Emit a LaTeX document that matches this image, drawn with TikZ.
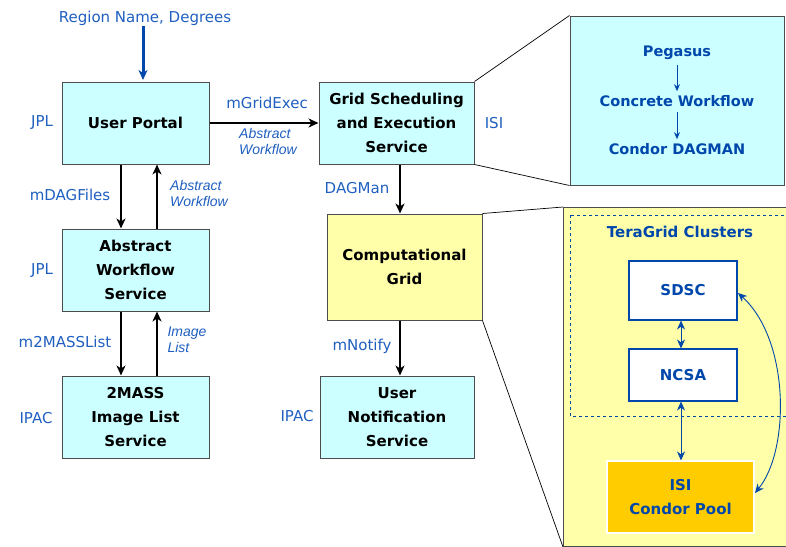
\documentclass[tikz,border=0pt]{standalone}
\usepackage{fontspec}
\setmainfont{DejaVu Sans}
\newfontfamily\flowfont{Liberation Sans}
\usetikzlibrary{arrows.meta}
\definecolor{boxcyan}{HTML}{CCFFFF}
\definecolor{boxyellow}{HTML}{FFFFAA}
\definecolor{poolgold}{HTML}{FFCC00}
\definecolor{labelblue}{HTML}{1F5FBF}
\definecolor{linkblue}{HTML}{0047AB}

\begin{document}
\begin{tikzpicture}[x=1pt, y=-1pt]
        \tikzstyle{every node}=[inner sep=1pt, align=center]
        \tikzstyle{service}=[draw=black!70, line width=1pt, fill=boxcyan, font=\fontsize{15}{24}\selectfont\bfseries]
        \tikzstyle{site}=[text=labelblue, font=\fontsize{15}{17}\selectfont]
        \tikzstyle{flow}=[text=labelblue, font=\flowfont\fontsize{14}{16}\selectfont\itshape, align=left]
        \tikzstyle{stage}=[text=linkblue, font=\fontsize{14.5}{17}\selectfont\bfseries]
        \tikzstyle{cluster}=[draw=linkblue, line width=1.1pt, fill=white, text=linkblue, font=\fontsize{15}{24}\selectfont\bfseries]
        \tikzstyle{call}=[line width=2.5pt, -{Stealth[length=10pt, width=9pt, inset=3pt]}]
        \tikzstyle{link}=[draw=linkblue, line width=0.9pt, {Stealth[length=9pt, width=8pt]}-{Stealth[length=9pt, width=8pt]}]
        \clip (0,0) rectangle (786,546);
        \useasboundingbox (0,0) rectangle (786,546);
        % zoomed views
        \node [draw=black!70, line width=1pt, fill=boxcyan, minimum width=214pt, minimum height=169pt] (pegbox) at (677,100.5) {};
        \node [draw=black!70, line width=1pt, fill=boxyellow, minimum width=230pt, minimum height=339pt, anchor=north west] (gridbox) at (563,207) {};
        \draw [draw=linkblue, dashed, line width=0.8pt] (570,215) rectangle (800,416);
        % services
        \node [service, minimum width=147pt, minimum height=82pt] (portal) at (135.5,123) {User Portal};
        \node [service, minimum width=147pt, minimum height=82pt] (abstract) at (135.5,270) {Abstract\\Workflow\\Service};
        \node [service, minimum width=147pt, minimum height=82pt] (twomass) at (135.5,417) {2MASS\\Image List\\Service};
        \node [service, minimum width=155pt, minimum height=82pt] (sched) at (396.5,123) {Grid Scheduling\\and Execution\\Service};
        \node [service, fill=boxyellow, minimum width=155pt, minimum height=106pt] (compgrid) at (404.5,267) {Computational\\Grid};
        \node [service, minimum width=154pt, minimum height=82pt] (notify) at (397,417) {User\\Notification\\Service};
        % sites
        \node [site] (jplA) at (42,123) {JPL};
        \node [site] (jplB) at (42,271) {JPL};
        \node [site] (ipacA) at (36,418) {IPAC};
        \node [site] (ipacB) at (297,416) {IPAC};
        \node [site] (isiA) at (494,123) {ISI};
        \node [site] (rname) at (145,18) {Region Name, Degrees};
        % calls
        \node [site] (gridexec) at (267,103) {mGridExec};
        \node [flow] (flowA) at (268,141) {Abstract\\Workflow};
        \node [site] (dagfiles) at (70,195) {mDAGFiles};
        \node [flow] (flowB) at (199,193) {Abstract\\Workflow};
        \node [site] (masslist) at (65,342) {m2MASSList};
        \node [flow] (imglist) at (187,340) {Image\\List};
        \node [site] (dagman) at (357,188) {DAGMan};
        \node [site] (mnotify) at (362,346) {mNotify};
        \draw [call, draw=linkblue, line width=3pt] (rname.south -| 143,0) -- (143,80);
        \draw [call] (portal) -- (sched);
        \draw [call] ([xshift=-14.5pt]portal.south) -- ([xshift=-14.5pt]abstract.north);
        \draw [call] ([xshift=21.5pt]abstract.north) -- ([xshift=21.5pt]portal.south);
        \draw [call] ([xshift=-14.5pt]abstract.south) -- ([xshift=-14.5pt]twomass.north);
        \draw [call] ([xshift=21.5pt]twomass.north) -- ([xshift=21.5pt]abstract.south);
        \draw [call] (sched.south -| 400,0) -- (compgrid.north -| 400,0);
        \draw [call] (compgrid.south -| 400,0) -- (notify.north -| 400,0);
        % zoom lines
        \draw [line width=0.7pt] (sched.north east) -- (pegbox.north west);
        \draw [line width=0.7pt] (sched.south east) -- (pegbox.south west);
        \draw [line width=0.7pt] (compgrid.north east) -- (gridbox.north west);
        \draw [line width=0.7pt] (compgrid.south east) -- (gridbox.south west);
        % pegasus
        \node [stage] (pegasus) at (677,53) {Pegasus};
        \node [stage] (concrete) at (677,101) {Concrete Workflow};
        \node [stage] (condor) at (677,149) {Condor DAGMAN};
        \draw [draw=linkblue, line width=0.8pt, shorten <=4pt, shorten >=3pt, -{Stealth[length=7pt, width=6pt]}] (pegasus) -- (concrete);
        \draw [draw=linkblue, line width=0.8pt, shorten <=4pt, shorten >=3pt, -{Stealth[length=7pt, width=6pt]}] (concrete) -- (condor);
        % clusters
        \node [stage, font=\fontsize{15}{17}\selectfont\bfseries] (teragrid) at (680,232) {TeraGrid Clusters};
        \node [cluster, minimum width=108pt, minimum height=59pt] (sdsc) at (683,290.5) {SDSC};
        \node [cluster, minimum width=108pt, minimum height=52pt] (ncsa) at (683,375) {NCSA};
        \node [cluster, draw=white, fill=poolgold, minimum width=147pt, minimum height=72pt] (pool) at (680.5,497) {ISI\\Condor Pool};
        \draw [link] (sdsc.south -| 681,0) -- (ncsa.north -| 681,0);
        \draw [link] (ncsa.south -| 681,0) -- (pool.north -| 681,0);
        \draw [link] (738,293) .. controls (790,340) and (790,450) .. (755,493);
\end{tikzpicture}
\end{document}
